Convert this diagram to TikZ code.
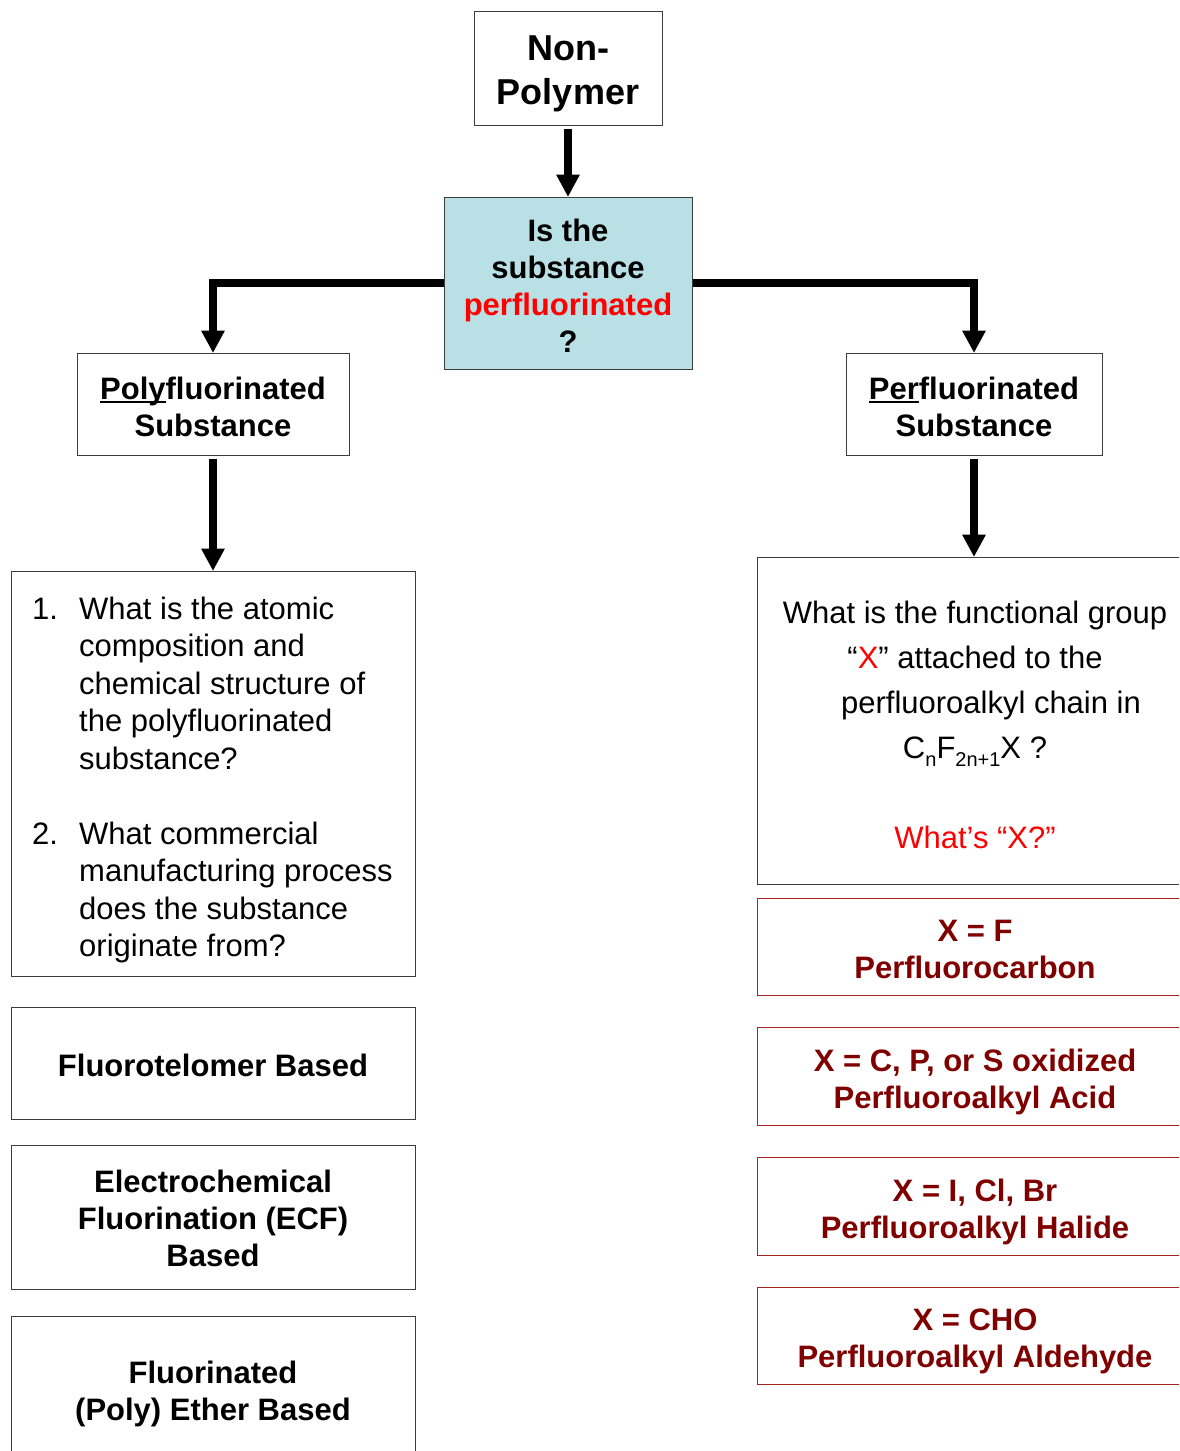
\documentclass[tikz,border=0pt]{standalone}
\usepackage{fontspec}
\setmainfont{Liberation Sans}
\usetikzlibrary{arrows.meta}
\definecolor{qblue}{RGB}{185,224,228}
\definecolor{maroontxt}{RGB}{128,0,0}
\definecolor{redline}{RGB}{165,35,35}
\definecolor{boxline}{RGB}{60,60,60}
\newcommand\myul[1]{\setbox0\hbox{#1}\rlap{\rule[-3.5pt]{\wd0}{2.5pt}}\box0}
\newcommand\mysub[1]{\raisebox{-8pt}{\fontsize{20}{20}\selectfont #1}}
\begin{document}
\begin{tikzpicture}[x=1pt,y=-1pt,
  box/.style={draw=boxline,line width=1pt,inner sep=0pt},
  txt/.style={inner sep=0pt,align=center},
  bt/.style={txt,font=\fontsize{31}{37}\selectfont\bfseries},
  rt/.style={font=\fontsize{31}{37.5}\selectfont},
  redbox/.style={box,draw=redline},
  redtxt/.style={bt,text=maroontxt},
  arr/.style={line width=8pt,line join=miter,-{Triangle[length=22pt,width=24pt,line width=0pt]}}]
\useasboundingbox (0,0) rectangle (1179,1451);
\fill[white] (0,0) rectangle (1179,1451);
\clip (0,0) rectangle (1179,1451);

% boxes
\node[box,minimum width=188pt,minimum height=114pt] (np) at (568,68) {};
\node[box,fill=qblue,minimum width=248pt,minimum height=172pt] (q) at (568,283) {};
\node[box,minimum width=272pt,minimum height=102pt] (poly) at (213,404) {};
\node[box,minimum width=256pt,minimum height=102pt] (perf) at (974,404) {};
\node[box,minimum width=404pt,minimum height=405pt] (qa) at (213,773.5) {};
\node[box,minimum width=404pt,minimum height=112pt] (ft) at (213,1063) {};
\node[box,minimum width=404pt,minimum height=144pt] (ecf) at (213,1217) {};
\node[box,minimum width=404pt,minimum height=148pt] (pe) at (213,1390) {};
\node[box,minimum width=436pt,minimum height=327pt] (qb) at (975,720.5) {};
\node[redbox,minimum width=436pt,minimum height=97pt] (r1) at (975,946.5) {};
\node[redbox,minimum width=436pt,minimum height=98pt] (r2) at (975,1076) {};
\node[redbox,minimum width=436pt,minimum height=98pt] (r3) at (975,1206) {};
\node[redbox,minimum width=436pt,minimum height=97pt] (r4) at (975,1335.5) {};

% texts
\node[txt,font=\fontsize{36}{44}\selectfont\bfseries] (npt) at ([yshift=-6pt]np.center) {Non-\\Polymer};
\node[bt] (qt) at ([yshift=-3pt]q.center) {Is the\\substance\\\textcolor{red}{perfluorinated}\\?};
\node[bt] (polyt) at ([yshift=-3pt]poly.center) {\myul{Poly}fluorinated\\Substance};
\node[bt] (perft) at ([yshift=-3pt]perf.center) {\myul{Per}fluorinated\\Substance};
\node[rt,anchor=base west,inner sep=0pt] (qat) at (32,619) {\begin{tabular}[t]{@{}p{47pt}@{}l@{}}1.&What is the atomic\\ &composition and\\ &chemical structure of\\ &the polyfluorinated\\ &substance?\\ &\\ 2.&What commercial\\ &manufacturing process\\ &does the substance\\ &originate from?\end{tabular}};
\node[bt] (ftt) at ([yshift=-2pt]ft.center) {Fluorotelomer Based};
\node[bt] (ecft) at ([yshift=-1pt]ecf.center) {Electrochemical\\Fluorination (ECF)\\Based};
\node[bt] (pet) at ([yshift=-3.5pt]pe.center) {Fluorinated\\(Poly) Ether Based};
\node[txt,font=\fontsize{31}{45}\selectfont,anchor=north] (qbt) at (975,601) {What is the functional group\\“\textcolor{red}{X}” attached to the\\\hspace*{32pt}perfluoroalkyl chain in\\C\mysub{n}F\mysub{2n+1}X ?\\\mbox{}\\\textcolor{red}{What’s “X?”}};
\node[redtxt] (r1t) at ([yshift=-3pt]r1.center) {X = F\\Perfluorocarbon};
\node[redtxt] (r2t) at ([yshift=-6pt]r2.center) {X = C, P, or S oxidized\\Perfluoroalkyl Acid};
\node[redtxt] (r3t) at ([yshift=-5.5pt]r3.center) {X = I, Cl, Br\\Perfluoroalkyl Halide};
\node[redtxt] (r4t) at ([yshift=-6pt]r4.center) {X = CHO\\Perfluoroalkyl Aldehyde};

% connectors
\draw[arr,shorten <=3pt] (np.south) -- (q.north);
\draw[arr] (q.west) -| (poly.north);
\draw[arr] (q.east) -| (perf.north);
\draw[arr,shorten <=3pt] (poly.south) -- (qa.north);
\draw[arr,shorten <=3pt] (perf.south) -- (perf.south |- qb.north);
\end{tikzpicture}
\end{document}
